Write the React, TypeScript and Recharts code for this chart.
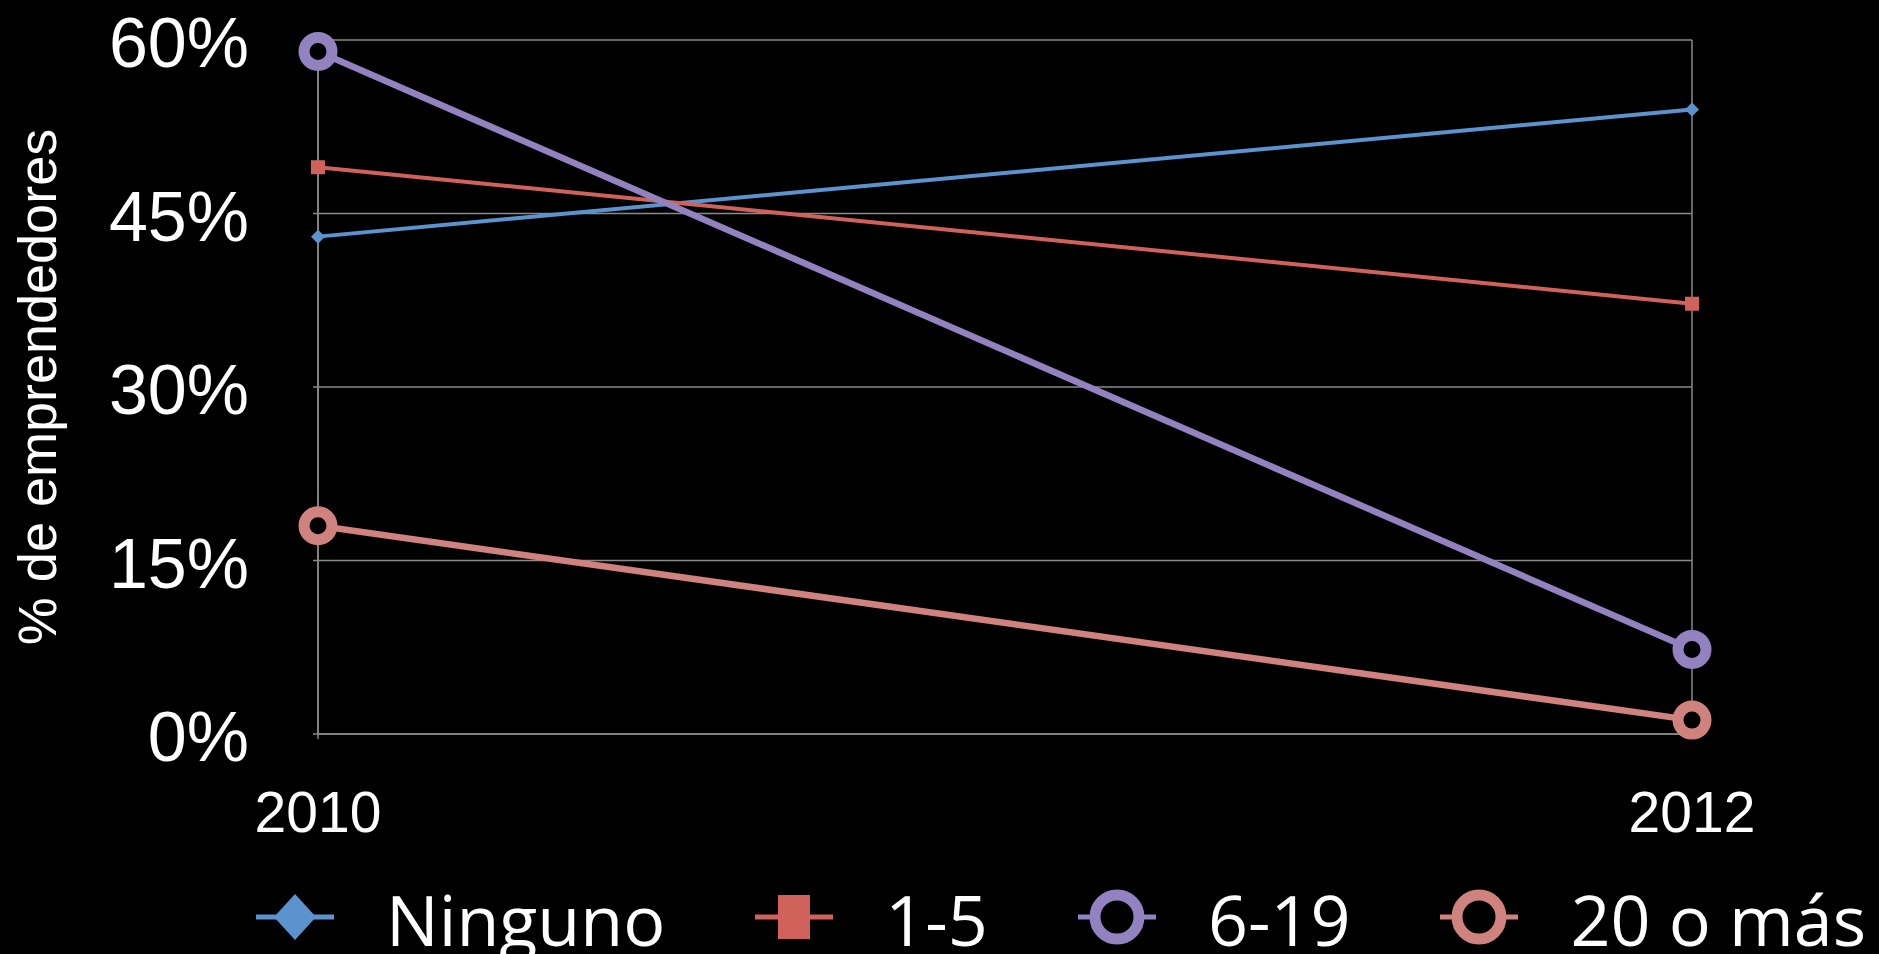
import { CartesianGrid, Label, Line, LineChart, XAxis, YAxis } from 'recharts'

const years = ['2010', '2012']
const ninguno = [43, 54]
const unoCinco = [49, 37.2]
const seisDiecinueve = [59, 7.3]
const veinteOMas = [18, 1.2]
const yTicks = [0, 15, 30, 45, 60]

const series = [
  { key: 'ninguno', name: 'Ninguno', color: '#5b93cf', width: 4, marker: 'diamond' },
  { key: 'unoCinco', name: '1-5', color: '#d0625b', width: 4, marker: 'square' },
  { key: 'seis', name: '6-19', color: '#9282bf', width: 6.5, marker: 'circle' },
  { key: 'veinte', name: '20 o más', color: '#cf827e', width: 6.5, marker: 'circle' },
]

const data = years.map((year, i) => ({
  year,
  ninguno: ninguno[i],
  unoCinco: unoCinco[i],
  seis: seisDiecinueve[i],
  veinte: veinteOMas[i],
}))

const GRID = '#8a8a8a'

function makeDot(marker: string, color: string) {
  return (props: any) => {
    const { cx, cy, index } = props
    if (cx == null || cy == null) return <g key={index} />
    if (marker === 'diamond') {
      const r = 7
      return (
        <polygon
          key={index}
          points={`${cx},${cy - r} ${cx + r},${cy} ${cx},${cy + r} ${cx - r},${cy}`}
          fill={color}
        />
      )
    }
    if (marker === 'square') {
      return <rect key={index} x={cx - 7} y={cy - 7} width={14} height={14} fill={color} />
    }
    return <circle key={index} cx={cx} cy={cy} r={14} fill="#000" stroke={color} strokeWidth={11} />
  }
}

function LegendIcon({ marker, color }: { marker: string; color: string }) {
  return (
    <svg width={78} height={60} style={{ display: 'block' }}>
      <line x1={0} y1={30} x2={78} y2={30} stroke={color} strokeWidth={5} />
      {marker === 'diamond' && <polygon points="39,7 60,30 39,53 18,30" fill={color} />}
      {marker === 'square' && <rect x={23} y={8} width={32} height={44} fill={color} />}
      {marker === 'circle' && (
        <ellipse cx={39} cy={30} rx={22} ry={22} fill="#000" stroke={color} strokeWidth={11} />
      )}
    </svg>
  )
}

const YTick = (props: any) => {
  const { x, y, payload } = props
  return (
    <text x={x - 64} y={y + 27} textAnchor="end" fill="#fff" fontSize={70} fontFamily="'Liberation Sans', Arial, sans-serif">
      {payload.value}%
    </text>
  )
}

const XTick = (props: any) => {
  const { x, y, payload } = props
  return (
    <text x={x} y={y + 93} textAnchor="middle" fill="#fff" fontSize={57} fontFamily="'Liberation Sans', Arial, sans-serif">
      {payload.value}
    </text>
  )
}

export default function App() {
  return (
    <div style={{ position: 'absolute', left: 0, top: 0, width: 1879, height: 954, background: '#000', overflow: 'hidden' }}>
      <LineChart width={1879} height={954} data={data} margin={{ top: 40, right: 187, bottom: 100, left: 0 }}>
        <CartesianGrid stroke={GRID} strokeWidth={1.5} />
        <XAxis
          dataKey="year"
          height={120}
          axisLine={{ stroke: GRID, strokeWidth: 1.5 }}
          tickLine={{ stroke: GRID, strokeWidth: 1.5 }}
          tickSize={5}
          tickMargin={0}
          tick={<XTick />}
        />
        <YAxis
          width={318}
          domain={[0, 60]}
          ticks={yTicks}
          axisLine={{ stroke: GRID, strokeWidth: 1.5 }}
          tickLine={{ stroke: GRID, strokeWidth: 1.5 }}
          tickSize={5}
          tickMargin={0}
          tick={<YTick />}
        >
          <Label
            content={(p: any) => {
              const vb = p.viewBox
              const cy = vb.y + vb.height / 2
              return (
                <text
                  x={56}
                  y={cy}
                  transform={`rotate(-90, 56, ${cy})`}
                  textAnchor="middle"
                  fill="#fff"
                  fontSize={54}
                  fontFamily="'Liberation Sans', Arial, sans-serif"
                >
                  % de emprendedores
                </text>
              )
            }}
          />
        </YAxis>
        {series.map((s) => (
          <Line
            key={s.key}
            dataKey={s.key}
            name={s.name}
            stroke={s.color}
            strokeWidth={s.width}
            dot={makeDot(s.marker, s.color)}
            activeDot={false}
            isAnimationActive={false}
          />
        ))}
      </LineChart>
      <div
        style={{
          position: 'absolute',
          left: 256,
          top: 887,
          height: 60,
          display: 'flex',
          alignItems: 'center',
          whiteSpace: 'nowrap',
          fontFamily: "'Open Sans', 'Noto Sans', sans-serif",
          fontSize: 70,
          color: '#fff',
        }}
      >
        {series.map((s, i) => (
          <div key={s.key} style={{ display: 'flex', alignItems: 'center', marginLeft: i === 0 ? 0 : 90 }}>
            <LegendIcon marker={s.marker} color={s.color} />
            <span style={{ marginLeft: 52, lineHeight: '60px', position: 'relative', top: 2 }}>{s.name}</span>
          </div>
        ))}
      </div>
    </div>
  )
}
